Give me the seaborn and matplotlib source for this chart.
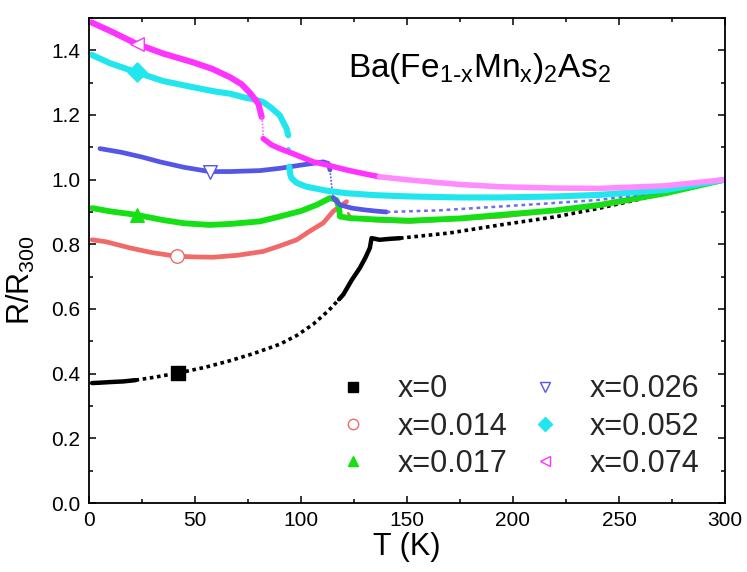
import matplotlib
matplotlib.use('Agg')
import matplotlib.pyplot as plt
from matplotlib.lines import Line2D
import seaborn as sns

# ---------------- data ----------------
# x = 0
t0_a = [1.5, 5, 10, 16.2, 22]
r0_a = [0.371, 0.372, 0.374, 0.376, 0.380]
t0_b = [22, 30, 42.1, 55, 66.5, 78, 90, 98, 105.8, 113, 118]
r0_b = [0.380, 0.388, 0.402, 0.420, 0.440, 0.463, 0.491, 0.518, 0.553, 0.595, 0.630]
t0_c = [118, 120, 124, 127.8, 130.5, 132.5, 133.3, 135, 137, 142, 146.7]
r0_c = [0.630, 0.645, 0.690, 0.727, 0.760, 0.789, 0.819, 0.817, 0.814, 0.817, 0.819]
t0_d = [146.7, 170, 194, 220, 241, 272, 300]
r0_d = [0.819, 0.835, 0.860, 0.885, 0.912, 0.958, 1.000]

# x = 0.014
t1_a = [1.5, 8, 19.3, 30, 41.4, 50, 58.6, 70, 82.2, 90, 98, 104, 110.5, 115.2, 121.5]
r1_a = [0.814, 0.808, 0.789, 0.774, 0.763, 0.761, 0.760, 0.766, 0.778, 0.795,
        0.814, 0.840, 0.866, 0.902, 0.932]
t1_b = [122.3, 124, 135, 151, 194, 241, 272, 300]
r1_b = [0.896, 0.880, 0.872, 0.868, 0.884, 0.917, 0.955, 1.000]

# x = 0.017
t2 = [1.5, 10, 22.5, 35, 45, 57, 66.5, 80.7, 90, 100, 107.4, 113.7, 116.8, 118,
      118.4, 123, 135, 151, 175, 194, 220, 241, 272, 300]
r2 = [0.912, 0.902, 0.891, 0.875, 0.865, 0.860, 0.863, 0.871, 0.886, 0.903, 0.922,
      0.943, 0.937, 0.912, 0.886, 0.881, 0.877, 0.873, 0.880, 0.891, 0.905, 0.922,
      0.958, 1.000]

# x = 0.026
t3_a = [5.2, 15, 25, 33.5, 45, 57, 66.5, 80.7, 90, 100, 110.5, 112.9, 113.7]
r3_a = [1.096, 1.085, 1.070, 1.055, 1.038, 1.025, 1.025, 1.028, 1.035, 1.045,
        1.055, 1.050, 1.030]
t3_b = [113.7, 114.5, 115.2]
r3_b = [1.030, 0.980, 0.945]
t3_c = [115.2, 118.4, 124, 129.4, 135, 140.4]
r3_c = [0.945, 0.922, 0.912, 0.907, 0.903, 0.900]
t3_d = [140.4, 165, 194, 220, 241, 272, 300]
r3_d = [0.900, 0.905, 0.917, 0.928, 0.9375, 0.963, 1.000]

# x = 0.052
t4_a = [1.3, 10, 22.5, 35, 49, 60, 66.5, 72.8, 78, 82.2, 86, 90, 93.2, 94]
r4_a = [1.386, 1.360, 1.332, 1.305, 1.286, 1.272, 1.266, 1.255, 1.248, 1.240,
        1.222, 1.199, 1.158, 1.137]
t4_gap = [94]
r4_gap = [1.096]
t4_b = [94.5, 95, 95.6, 98, 102.7, 112, 121.5, 135, 151, 175, 194, 220, 241, 272, 300]
r4_b = [1.040, 1.015, 1.004, 0.990, 0.978, 0.966, 0.958, 0.952, 0.948, 0.945,
        0.945, 0.948, 0.953, 0.968, 1.000]

# x = 0.074
t5_a = [1.3, 10, 22.5, 35, 49, 58, 66.5, 72, 76, 79.9, 81.5]
r5_a = [1.486, 1.460, 1.420, 1.390, 1.363, 1.343, 1.317, 1.295, 1.268, 1.235, 1.194]
t5_b = [81.5, 82, 82.2]
r5_b = [1.194, 1.158, 1.127]
t5_c = [82.2, 86, 90, 96.4, 105.8, 112, 121.5, 130, 137]
r5_c = [1.127, 1.108, 1.096, 1.080, 1.055, 1.046, 1.030, 1.018, 1.009]
t5_d = [137, 151, 175, 194, 220, 241, 272, 300]
r5_d = [1.009, 0.999, 0.985, 0.978, 0.974, 0.973, 0.981, 1.000]

# big symbols sitting on the curves
labels = ['x=0', 'x=0.014', 'x=0.017', 'x=0.026', 'x=0.052', 'x=0.074']
sym_t = [42.1, 41.4, 22.5, 57, 22.5, 22.5]
sym_r = [0.402, 0.763, 0.891, 1.025, 1.332, 1.420]

# ---------------- styling ----------------
sns.set_style('ticks')
plt.rcParams['font.family'] = ['Liberation Sans', 'DejaVu Sans']
plt.rcParams['mathtext.default'] = 'regular'
plt.rcParams['lines.solid_joinstyle'] = 'round'
plt.rcParams['lines.solid_capstyle'] = 'round'

colors = ['black', '#f06a6a', '#14e014', '#5555e6', '#22e6ee', '#ff33ff']
markers = ['s', 'o', '^', 'v', 'D', '<']
filled = [True, False, True, False, True, False]
dotted = (0, (1, 1))

fig = plt.figure(figsize=(7.47, 5.72), dpi=100)
ax = fig.add_axes([0.119, 0.1206, 0.8516, 0.848])


def seg(t, r, color, lw, ls='-'):
    sns.lineplot(x=t, y=r, sort=False, estimator=None, color=color,
                 linewidth=lw, linestyle=ls, ax=ax, legend=False)


# x=0
seg(t0_a, r0_a, colors[0], 3.2)
seg(t0_b, r0_b, colors[0], 2.6, dotted)
seg(t0_c, r0_c, colors[0], 3.2)
seg(t0_d, r0_d, colors[0], 2.6, dotted)
# x=0.014
seg(t1_a, r1_a, colors[1], 3.4)
seg(t1_b, r1_b, colors[1], 2.0)
# x=0.017
seg(t2, r2, colors[2], 4.2)
# x=0.026
seg(t3_a, r3_a, colors[3], 3.4)
seg(t3_b, r3_b, colors[3], 1.2, dotted)
seg(t3_c, r3_c, colors[3], 3.4)
seg(t3_d, r3_d, '#6c6cf0', 1.8, (0, (1.5, 1.5)))
# x=0.052
seg(t4_a, r4_a, colors[4], 4.4)
sns.scatterplot(x=t4_gap, y=r4_gap, color=colors[4], s=12, linewidth=0, ax=ax)
seg(t4_b, r4_b, colors[4], 4.4)
# x=0.074
seg(t5_a, r5_a, colors[5], 4.4)
seg(t5_b, r5_b, '#ff66ff', 1.2, dotted)
seg(t5_c, r5_c, colors[5], 4.0)
seg(t5_d, r5_d, '#ff8cff', 4.0)

handles = []
for i in range(6):
    face = colors[i] if filled[i] else 'white'
    sns.scatterplot(x=[sym_t[i]], y=[sym_r[i]], marker=markers[i], s=95,
                    color=face, edgecolor=colors[i], linewidth=1.0, ax=ax,
                    zorder=5, legend=False)
    handles.append(Line2D([], [], linestyle='none', marker=markers[i],
                          markersize=7.5 if markers[i] != 's' else 6.5,
                          markerfacecolor=face if filled[i] else 'none',
                          markeredgecolor=colors[i], markeredgewidth=1.0))

ax.legend(handles, labels, ncol=2, frameon=False, fontsize=22,
          loc='upper left', bbox_to_anchor=(0.432, 0.372),
          bbox_transform=fig.transFigure, borderpad=0, handlelength=1.0,
          handletextpad=0.95, columnspacing=0.74, labelspacing=0.24)

ax.text(122, 1.318, r'Ba(Fe$_{1\text{-}x}$Mn$_x$)$_2$As$_2$', fontsize=24,
        va='baseline', color='black')

ax.set_xlim(0, 300)
ax.set_ylim(0, 1.5)
ax.set_xticks([0, 50, 100, 150, 200, 250, 300])
ax.set_xticks([25, 75, 125, 175, 225, 275], minor=True)
ax.set_yticks([0.0, 0.2, 0.4, 0.6, 0.8, 1.0, 1.2, 1.4])
ax.set_yticks([0.1, 0.3, 0.5, 0.7, 0.9, 1.1, 1.3, 1.5], minor=True)
ax.set_yticklabels(['0.0', '0.2', '0.4', '0.6', '0.8', '1.0', '1.2', '1.4'])
ax.tick_params(which='both', direction='in', top=True, right=True,
               width=1.1, labelsize=15, pad=6, colors='black')
ax.tick_params(which='major', length=5)
ax.tick_params(which='minor', length=3)
for sp in ax.spines.values():
    sp.set_linewidth(1.3)
    sp.set_color('black')
    sp.set_visible(True)

ax.set_xlabel('T (K)', fontsize=22, labelpad=1, color='black')
ax.set_ylabel('R/R$_{300}$', fontsize=22, color='black')
ax.yaxis.set_label_coords(-0.081, 0.46)

fig.savefig('out.png', dpi=100)
